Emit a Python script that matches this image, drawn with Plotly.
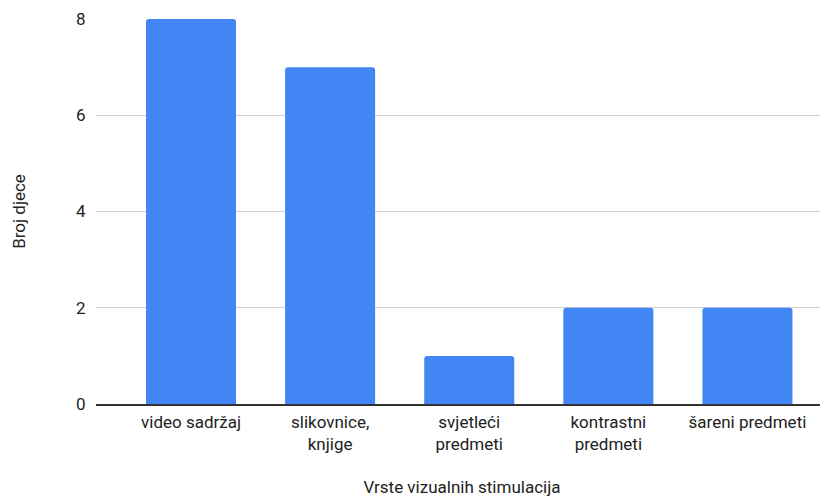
import plotly.graph_objects as go

categories = ["video sadržaj", "slikovnice,<br>knjige", "svjetleći<br>predmeti", "kontrastni<br>predmeti", "šareni predmeti"]
values = [8, 7, 1, 2, 2]
y_ticks = [0, 2, 4, 6, 8]

FONT = "Roboto, Arial, sans-serif"
TXT = "#222222"

fig = go.Figure(go.Bar(x=categories, y=values, marker=dict(color="#4285F4", line=dict(width=0))))
fig.update_layout(
    width=820, height=489,
    margin=dict(l=88, r=0, t=11, b=93),
    plot_bgcolor="white", paper_bgcolor="white",
    font=dict(family=FONT, size=17, color=TXT),
    bargap=0.353,
    barcornerradius=3,
    showlegend=False,
)
fig.update_xaxes(
    range=[-0.683, 4.579],
    title=dict(text="Vrste vizualnih stimulacija", font=dict(size=17, color=TXT), standoff=32),
    showline=True, linecolor="#333333", linewidth=1.5,
    ticks="outside", ticklen=2, tickcolor="rgba(0,0,0,0)",
    tickfont=dict(size=17, color=TXT),
)
fig.update_yaxes(
    title=dict(text="Broj djece", font=dict(size=17, color=TXT), standoff=46),
    range=[0, 8], tickvals=y_ticks, showgrid=True, gridcolor="#d0d0d0",
    zeroline=False, ticks="outside", ticklen=6, tickcolor="rgba(0,0,0,0)",
    tickfont=dict(size=17, color=TXT),
)
fig.write_html("out.html")
